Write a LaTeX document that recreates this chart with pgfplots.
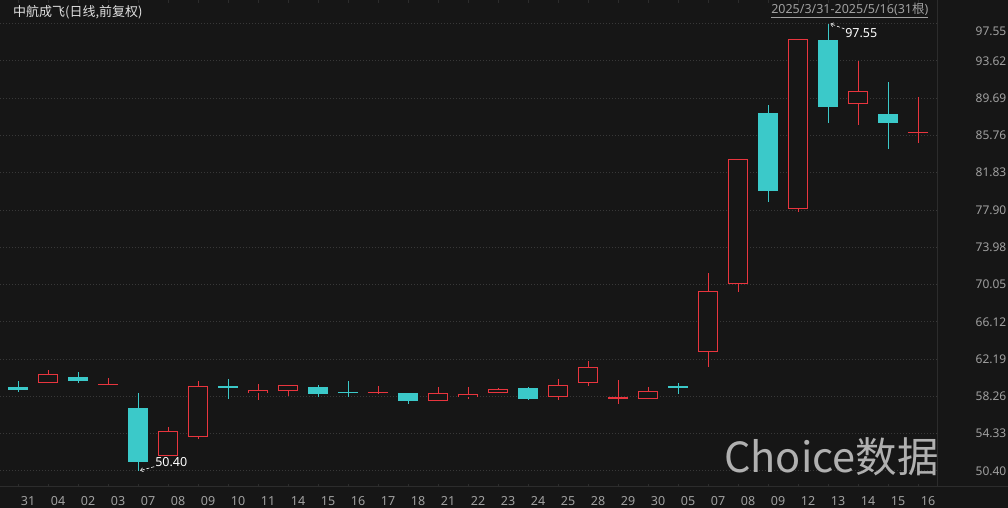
\documentclass[border=0pt]{standalone}
\usepackage{pgfplots}
\pgfplotsset{compat=1.18}
\usepackage{pgfplotstable}
\usepackage{fontspec}
\setmainfont{Noto Sans}
\newfontfamily\cjk{Noto Sans CJK SC}
\usetikzlibrary{arrows.meta}
\definecolor{bg}{HTML}{161616}
\definecolor{upred}{HTML}{E8353E}
\definecolor{dncyan}{HTML}{3BC9C9}
\definecolor{gridc}{HTML}{383838}
\definecolor{sep}{HTML}{2C2C2C}
\definecolor{lbl}{HTML}{A0A0A0}
\definecolor{wm}{HTML}{B0B0B0}

% up (red, hollow) candles
\pgfplotstableread{
i  o     h     l     c
1  59.64 61.05 59.64 60.63
3  59.46 60.21 59.43 59.60
5  52.02 55.07 51.98 54.62
6  54.01 59.86 53.80 59.36
8  58.58 59.54 57.87 58.93
9  58.86 59.46 58.30 59.46
12 58.65 59.36 58.48 58.77
14 57.80 59.25 57.80 58.58
15 58.19 59.25 57.98 58.48
16 58.58 59.18 58.58 59.01
18 58.22 60.13 57.87 59.43
19 59.71 62.00 59.36 61.33
20 58.01 60.00 57.45 58.22
21 58.01 59.25 58.01 58.83
23 62.91 71.24 61.38 69.34
24 70.08 83.28 69.23 83.28
26 78.04 95.90 77.72 95.90
28 89.04 93.60 86.85 90.48
30 86.04 89.78 84.98 86.14
}\upc

% down (cyan, filled) candles
\pgfplotstableread{
i  o     h     l     c
0  59.28 59.92 58.75 58.98
2  60.31 60.84 59.71 59.92
4  57.03 58.59 50.40 51.38
7  59.36 60.07 57.98 59.22
10 59.22 59.46 58.22 58.54
11 58.77 59.89 58.16 58.65
13 58.58 58.58 57.42 57.80
17 59.11 59.22 57.91 58.01
22 59.36 59.71 58.51 59.18
25 88.16 88.98 78.78 79.92
27 95.80 97.55 87.04 88.76
29 88.02 91.44 84.31 87.10
}\dnc

\begin{document}
\begin{tikzpicture}
\fill[bg] (0,0) rectangle (1008pt,508pt);
\begin{axis}[
  at={(0pt,21pt)}, anchor=south west,
  scale only axis, width=937pt, height=487pt,
  xmin=-0.6, xmax=30.633, ymin=48.714, ymax=100.03,
  axis line style={draw=none},
  xtick={0,...,30},
  xticklabels={31,04,02,03,07,08,09,10,11,14,15,16,17,18,21,22,23,24,25,28,29,30,05,07,08,09,12,13,14,15,16},
  xticklabel style={font=\fontsize{12.5}{14}\selectfont, text=lbl, anchor=center, inner sep=0pt, xshift=10pt, yshift=-14pt},
  xtick style={draw=sep, line width=1pt},
  major tick length=3pt,
  ytick={50.40,54.33,58.26,62.19,66.12,70.05,73.98,77.90,81.83,85.76,89.69,93.62},
  extra y ticks={97.55},
  extra y tick style={grid=major, yticklabel style={yshift=-7.5pt}},
  ytick style={draw=none},
  yticklabel pos=right,
  yticklabel style={font=\fontsize{12}{14}\selectfont, text=lbl, anchor=east, inner sep=0pt, xshift=69.5pt},
  /pgf/number format/.cd, fixed, fixed zerofill, precision=2, assume math mode=true,
  /pgfplots/.cd,
  ymajorgrids,
  major grid style={gridc, dash pattern=on 1pt off 2pt, line width=1pt},
]
% cyan wicks
\addplot[draw=none, mark=none, forget plot,
  error bars/.cd, y dir=both, y explicit, error mark=none,
  error bar style={draw=dncyan, line width=1pt}]
  table[x=i, y expr={(\thisrow{h}+\thisrow{l})/2}, y error expr={(\thisrow{h}-\thisrow{l})/2}] {\dnc};
% cyan bodies
\addplot[draw=none, mark=none, forget plot,
  error bars/.cd, y dir=both, y explicit, error mark=none,
  error bar style={draw=dncyan, line width=20pt}]
  table[x=i, y expr={(\thisrow{o}+\thisrow{c})/2}, y error expr={max(abs(\thisrow{o}-\thisrow{c})/2,0.06)}] {\dnc};
% red wicks
\addplot[draw=none, mark=none, forget plot,
  error bars/.cd, y dir=both, y explicit, error mark=none,
  error bar style={draw=upred, line width=1pt}]
  table[x=i, y expr={(\thisrow{h}+\thisrow{l})/2}, y error expr={(\thisrow{h}-\thisrow{l})/2}] {\upc};
% red bodies: outline
\addplot[draw=none, mark=none, forget plot,
  error bars/.cd, y dir=both, y explicit, error mark=none,
  error bar style={draw=upred, line width=20pt}]
  table[x=i, y expr={(\thisrow{o}+\thisrow{c})/2}, y error expr={max(abs(\thisrow{o}-\thisrow{c})/2,0.06)}] {\upc};
% red bodies: hollow inside
\addplot[draw=none, mark=none, forget plot,
  error bars/.cd, y dir=both, y explicit, error mark=none,
  error bar style={draw=bg, line width=18pt}]
  table[x=i, y expr={(\thisrow{o}+\thisrow{c})/2}, y error expr={max(abs(\thisrow{o}-\thisrow{c})/2-0.1054,0)}] {\upc};

% annotations
\draw[white, line width=0.6pt, densely dashed, -{Straight Barb[length=2.5pt,width=4pt]}]
  (axis cs:27.55,96.98) -- (axis cs:27.08,97.53);
\node[anchor=west, inner sep=0pt, text=white, font=\fontsize{12.5}{14}\selectfont] at (axis cs:27.57,96.55) {97.55};
\draw[white, line width=0.6pt, densely dashed, -{Straight Barb[length=2.5pt,width=4pt]}]
  (axis cs:4.54,50.85) -- (axis cs:4.07,50.45);
\node[anchor=west, inner sep=0pt, text=white, font=\fontsize{12.5}{14}\selectfont] at (axis cs:4.57,51.30) {50.40};
\end{axis}

% separators
\draw[sep, line width=1pt] (0,21.5pt) -- (1008pt,21.5pt);
\draw[sep, line width=1pt] (937pt,21.5pt) -- (937pt,508pt);

% title and range
\node[anchor=west, inner sep=0pt, text=white!88!black, font=\cjk\fontsize{13}{15}\selectfont] at (13pt,496pt) {中航成飞(日线,前复权)};
\node[anchor=east, inner sep=0pt, text=lbl, font=\fontsize{12.5}{15}\selectfont] at (928.5pt,497.5pt) {\underline{2025/3/31-2025/5/16(31{\cjk 根})}};

% watermark
\node[anchor=base west, inner sep=0pt, text=wm, font=\cjk\fontsize{41.5}{46}\selectfont] at (724pt,35.3pt) {Choice数据};

\pgfresetboundingbox
\useasboundingbox (0,0) rectangle (1008pt,508pt);
\end{tikzpicture}
\end{document}
